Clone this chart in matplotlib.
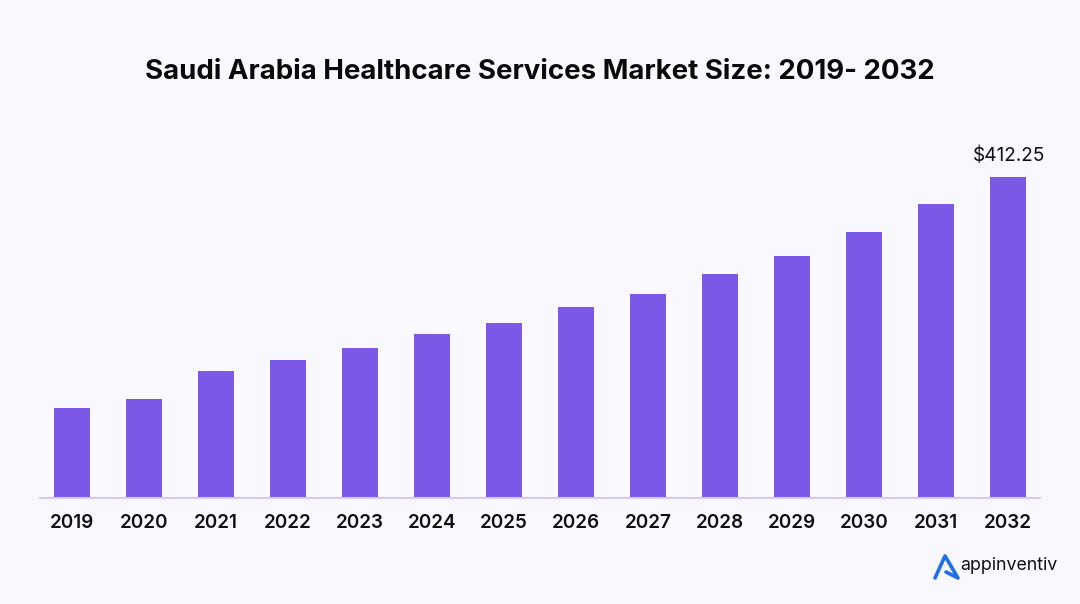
###############################################################################
# Saudi Arabia healthcare services market size bars
###############################################################################
import matplotlib
matplotlib.use('Agg')
import matplotlib.pyplot as plt

YEARS = ['2019', '2020', '2021', '2022', '2023', '2024', '2025',
         '2026', '2027', '2028', '2029', '2030', '2031', '2032']
VALUES = [115.6, 127.1, 163.1, 177.2, 192.6, 210.6, 224.7,
          245.3, 262.0, 287.7, 310.8, 341.6, 377.6, 412.25]
LAST_LABEL = '$412.25'
TITLE = 'Saudi Arabia Healthcare Services Market Size: 2019- 2032'

(W, H) = (1080, 604)
BG = '#F9F8FF'
BAR = '#7B58E6'
BASE = '#D5CCF0'
BLUE = '#1F6FEB'
plt.rcParams['font.family'] = ['Inter', 'DejaVu Sans']

###############################################################################
# Plot
###############################################################################
fig = plt.figure(figsize=(W / 100, H / 100), dpi=100, facecolor=BG)
ax = fig.add_axes([40 / W, (H - 498) / H, 1000 / W, 321 / H])
ax.set_facecolor('none')
pos = range(len(YEARS))
ax.bar(pos, VALUES, width=.5, color=BAR)
ax.set_xlim(-.444, 13.444)
ax.set_ylim(0, VALUES[-1])
ax.set_xticks(list(pos))
ax.set_xticklabels(YEARS, fontsize=13.6, fontweight='semibold', color='#111111')
ax.tick_params(axis='x', length=0, pad=11.5)
ax.set_yticks([])
for s in ('top', 'left', 'right'):
    ax.spines[s].set_visible(False)
ax.spines['bottom'].set_color(BASE)
ax.spines['bottom'].set_linewidth(1.5)
ax.annotate(
    LAST_LABEL, (13, VALUES[-1]), xytext=(1, 12), textcoords='offset pixels',
    ha='center', va='bottom', fontsize=13.7, color='#111111'
)
fig.text(540 / W, 1 - 72 / H, TITLE, ha='center', va='center',
         fontsize=19.9, fontweight='bold', color='#0A0A0A')

###############################################################################
# Logo
###############################################################################
fig.add_artist(plt.Line2D(
    [x / W for x in (935, 945, 958, 946)],
    [1 - y / H for y in (578, 556, 578, 572)],
    color=BLUE, lw=2.6, solid_joinstyle='round', solid_capstyle='round'
))
fig.text(960 / W, 1 - 565 / H, 'appinventiv', ha='left', va='center',
         fontsize=12.8, color='#111111')

plt.savefig('out.png', dpi=100, facecolor=BG)
plt.close()
